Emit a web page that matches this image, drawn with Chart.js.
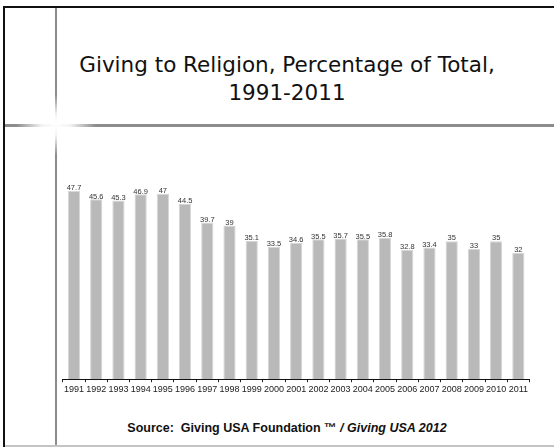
<!DOCTYPE html>
<html>
<head>
<meta charset="utf-8">
<script src="https://cdn.jsdelivr.net/npm/chart.js@4.4.1/dist/chart.umd.min.js"></script>
<style>
    body { margin: 0; background: #fff; }
    #slide { position: relative; width: 554px; height: 447px; overflow: hidden; background: #fff; }
    .ln { position: absolute; }
    #title { position: absolute; left: 17px; width: 540px; top: 51px; text-align: center;
        font-family: "DejaVu Sans", sans-serif; font-size: 21.5px; line-height: 28px; color: #111; }
    #source { position: absolute; left: 37px; width: 500px; top: 421px; text-align: center;
        font-family: "Liberation Sans", Arial, sans-serif; font-size: 12.5px; font-weight: bold; color: #111; }
    #box { position: absolute; left: 62px; top: 170px; width: 468px; height: 227px; }
</style>
</head>
<body>
<div id="slide">
    <div class="ln" style="left:3px;top:6px;width:551px;height:2px;background:#111;"></div>
    <div class="ln" style="left:3px;top:6px;width:2px;height:441px;background:#111;"></div>
    <div class="ln" style="left:55px;top:8px;width:2px;height:439px;background:#8c8c8c;"></div>
    <div class="ln" style="left:5px;top:124px;width:549px;height:3px;background:#8c8c8c;"></div>
    <div class="ln" style="left:16px;top:95px;width:80px;height:60px;background:radial-gradient(closest-side, #fff 0%, rgba(255,255,255,0.9) 35%, rgba(255,255,255,0) 100%);"></div>
    <div class="ln" style="left:5px;top:445px;width:549px;height:2px;background:#c4c4c4;"></div>
    <div id="title">Giving to Religion, Percentage of Total,<br>1991-2011</div>
    <div id="box"><canvas id="chart"></canvas></div>
    <div id="source">Source:&nbsp; Giving USA Foundation &trade; <i>/ Giving USA 2012</i></div>
</div>
<script>
const years = ["1991","1992","1993","1994","1995","1996","1997","1998","1999","2000","2001",
    "2002","2003","2004","2005","2006","2007","2008","2009","2010","2011"];
const religionPct = [47.7, 45.6, 45.3, 46.9, 47, 44.5, 39.7, 39, 35.1, 33.5, 34.6,
    35.5, 35.7, 35.5, 35.8, 32.8, 33.4, 35, 33, 35, 32];

// value labels on top of each bar
const barLabels = {
    id: 'barLabels',
    afterDatasetsDraw(chart) {
        const ctx = chart.ctx;
        const meta = chart.getDatasetMeta(0);
        ctx.save();
        ctx.font = '7.5px "Liberation Sans", Arial, sans-serif';
        ctx.fillStyle = '#333';
        ctx.textAlign = 'center';
        ctx.textBaseline = 'bottom';
        meta.data.forEach(function(bar, i) {
            ctx.fillText(String(religionPct[i]), bar.x, bar.y + 1);
        });
        ctx.restore();
    }
};

const ctx = document.getElementById('chart');
new Chart(ctx, {
    type: 'bar',
    data: {
        labels: years,
        datasets: [{
            data: religionPct,
            backgroundColor: '#b9b9b9',
            borderColor: '#d6d6d6',
            borderWidth: 1,
            barPercentage: 0.55,
            categoryPercentage: 1
        }]
    },
    options: {
        responsive: true,
        maintainAspectRatio: false,
        animation: false,
        layout: { padding: { top: 12, left: 0, right: 0, bottom: 0 } },
        plugins: { legend: { display: false }, tooltip: { enabled: false } },
        scales: {
            x: {
                grid: { display: true, drawOnChartArea: false, drawTicks: true, tickLength: 3, color: '#222', offset: true },
                border: { display: true, color: '#111', width: 1 },
                ticks: { color: '#222', font: { family: '"Liberation Sans", Arial, sans-serif', size: 9 }, padding: 2, maxRotation: 0, autoSkip: false }
            },
            y: {
                display: false,
                min: 0,
                max: 50
            }
        }
    },
    plugins: [barLabels]
});
</script>
</body>
</html>
